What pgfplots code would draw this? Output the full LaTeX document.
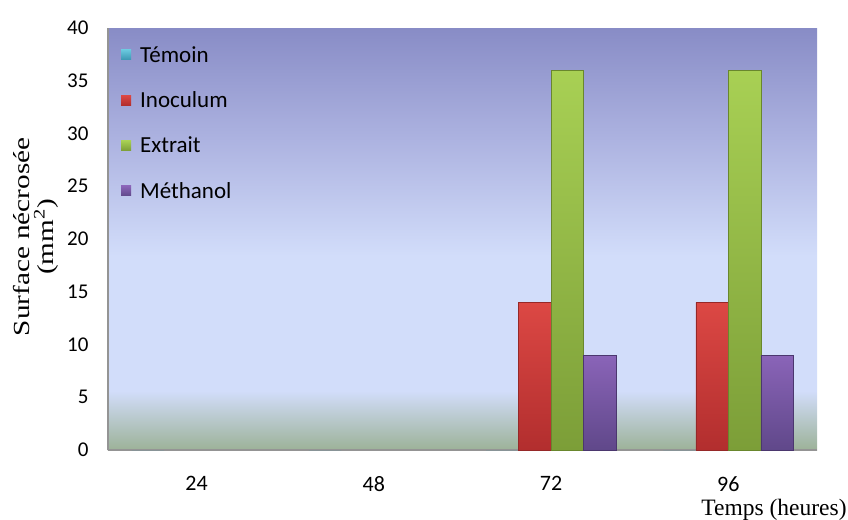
\documentclass[border=0pt]{standalone}
\usepackage{fontspec}
\setmainfont{Carlito}
\newfontfamily\serifface{Liberation Serif}
\usepackage{graphicx}
\usepackage{pgfplots}
\pgfplotsset{compat=1.18}

% background colours of the plotting area
\definecolor{bgtop}{RGB}{136,140,198}
\definecolor{bgupper}{RGB}{172,178,224}
\definecolor{bglight}{RGB}{210,221,250}
\definecolor{bgbottom}{RGB}{156,178,152}
\pgfdeclareverticalshading{plotbg}{100bp}{%
  color(0bp)=(bgbottom); color(25bp)=(bgbottom);
  color(32bp)=(bglight); color(48bp)=(bglight);
  color(62bp)=(bgupper); color(75bp)=(bgtop); color(100bp)=(bgtop)}

% series colours
\definecolor{temtop}{RGB}{105,200,222}
\definecolor{tembot}{RGB}{60,150,178}
\definecolor{inotop}{RGB}{220,72,68}
\definecolor{inobot}{RGB}{178,46,46}
\definecolor{inoedge}{RGB}{150,40,40}
\definecolor{exttop}{RGB}{168,208,84}
\definecolor{extbot}{RGB}{124,158,56}
\definecolor{extedge}{RGB}{105,135,45}
\definecolor{mettop}{RGB}{138,100,184}
\definecolor{metbot}{RGB}{96,72,138}
\definecolor{metedge}{RGB}{75,55,110}

\begin{document}
\begin{tikzpicture}
\useasboundingbox (-108bp,-70bp) rectangle (740bp,450bp);
\begin{axis}[
  at={(0,0)}, anchor=south west,
  scale only axis,
  width=709bp, height=422bp,
  ybar=0pt, bar width=32.5bp,
  xmin=-0.5, xmax=3.5,
  ymin=0, ymax=40,
  xtick={0,1,2,3},
  xticklabels={24,48,72,96},
  ytick={0,5,...,40},
  major tick length=0pt,
  axis x line=bottom, axis y line=left,
  axis line style={-, draw=black!42, line width=1.4bp},
  axis background/.style={shading=plotbg},
  /pgf/number format/assume math mode=true,
  yticklabel style={font=\fontsize{21bp}{24bp}\selectfont, xshift=-16bp},
  xticklabel style={font=\fontsize{22bp}{26bp}\selectfont, yshift=-23bp},
  xlabel={Temps (heures)},
  xlabel style={font=\serifface\fontsize{23.5bp}{26bp}\selectfont,
    at={(axis description cs:1,0)}, anchor=center,
    xshift=-43bp, yshift=-60bp},
  ylabel={\scalebox{1.27}[1]{Surface nécrosée}\\\scalebox{1.27}[1]{(mm\textsuperscript{2})}},
  ylabel style={font=\serifface\fontsize{23bp}{24bp}\selectfont,
    align=center, at={(axis description cs:-0.1015,0.505)}, anchor=center},
  legend cell align=left,
  legend style={at={(axis description cs:0,1)}, anchor=north west,
    xshift=10bp, yshift=-14bp, draw=none, fill=none,
    font=\fontsize{23bp}{26bp}\selectfont, row sep=24bp, column sep=7bp},
  legend image code/.code={%
    \fill[#1,draw=none] (0bp,-5bp) rectangle (10bp,5bp);},
  clip=false,
]
% Témoin: every value is zero, so its bars have no height
\addplot[fill=tembot, draw=none,
  legend image code/.code={%
    \fill[top color=temtop, bottom color=tembot, draw=none] (0bp,-5bp) rectangle (10bp,5bp);}]
  coordinates {(0,0) (1,0) (2,0) (3,0)};
\addlegendentry{Témoin}
\addplot[draw=inoedge, top color=inotop, bottom color=inobot,
  y filter/.expression={y==0 ? nan : y}, unbounded coords=discard]
  coordinates {(0,0) (1,0) (2,14) (3,14)};
\addlegendentry{Inoculum}
\addplot[draw=extedge, top color=exttop, bottom color=extbot,
  y filter/.expression={y==0 ? nan : y}, unbounded coords=discard]
  coordinates {(0,0) (1,0) (2,36) (3,36)};
\addlegendentry{Extrait}
\addplot[draw=metedge, top color=mettop, bottom color=metbot,
  y filter/.expression={y==0 ? nan : y}, unbounded coords=discard]
  coordinates {(0,0) (1,0) (2,9) (3,9)};
\addlegendentry{Méthanol}
\end{axis}
\end{tikzpicture}
\end{document}
